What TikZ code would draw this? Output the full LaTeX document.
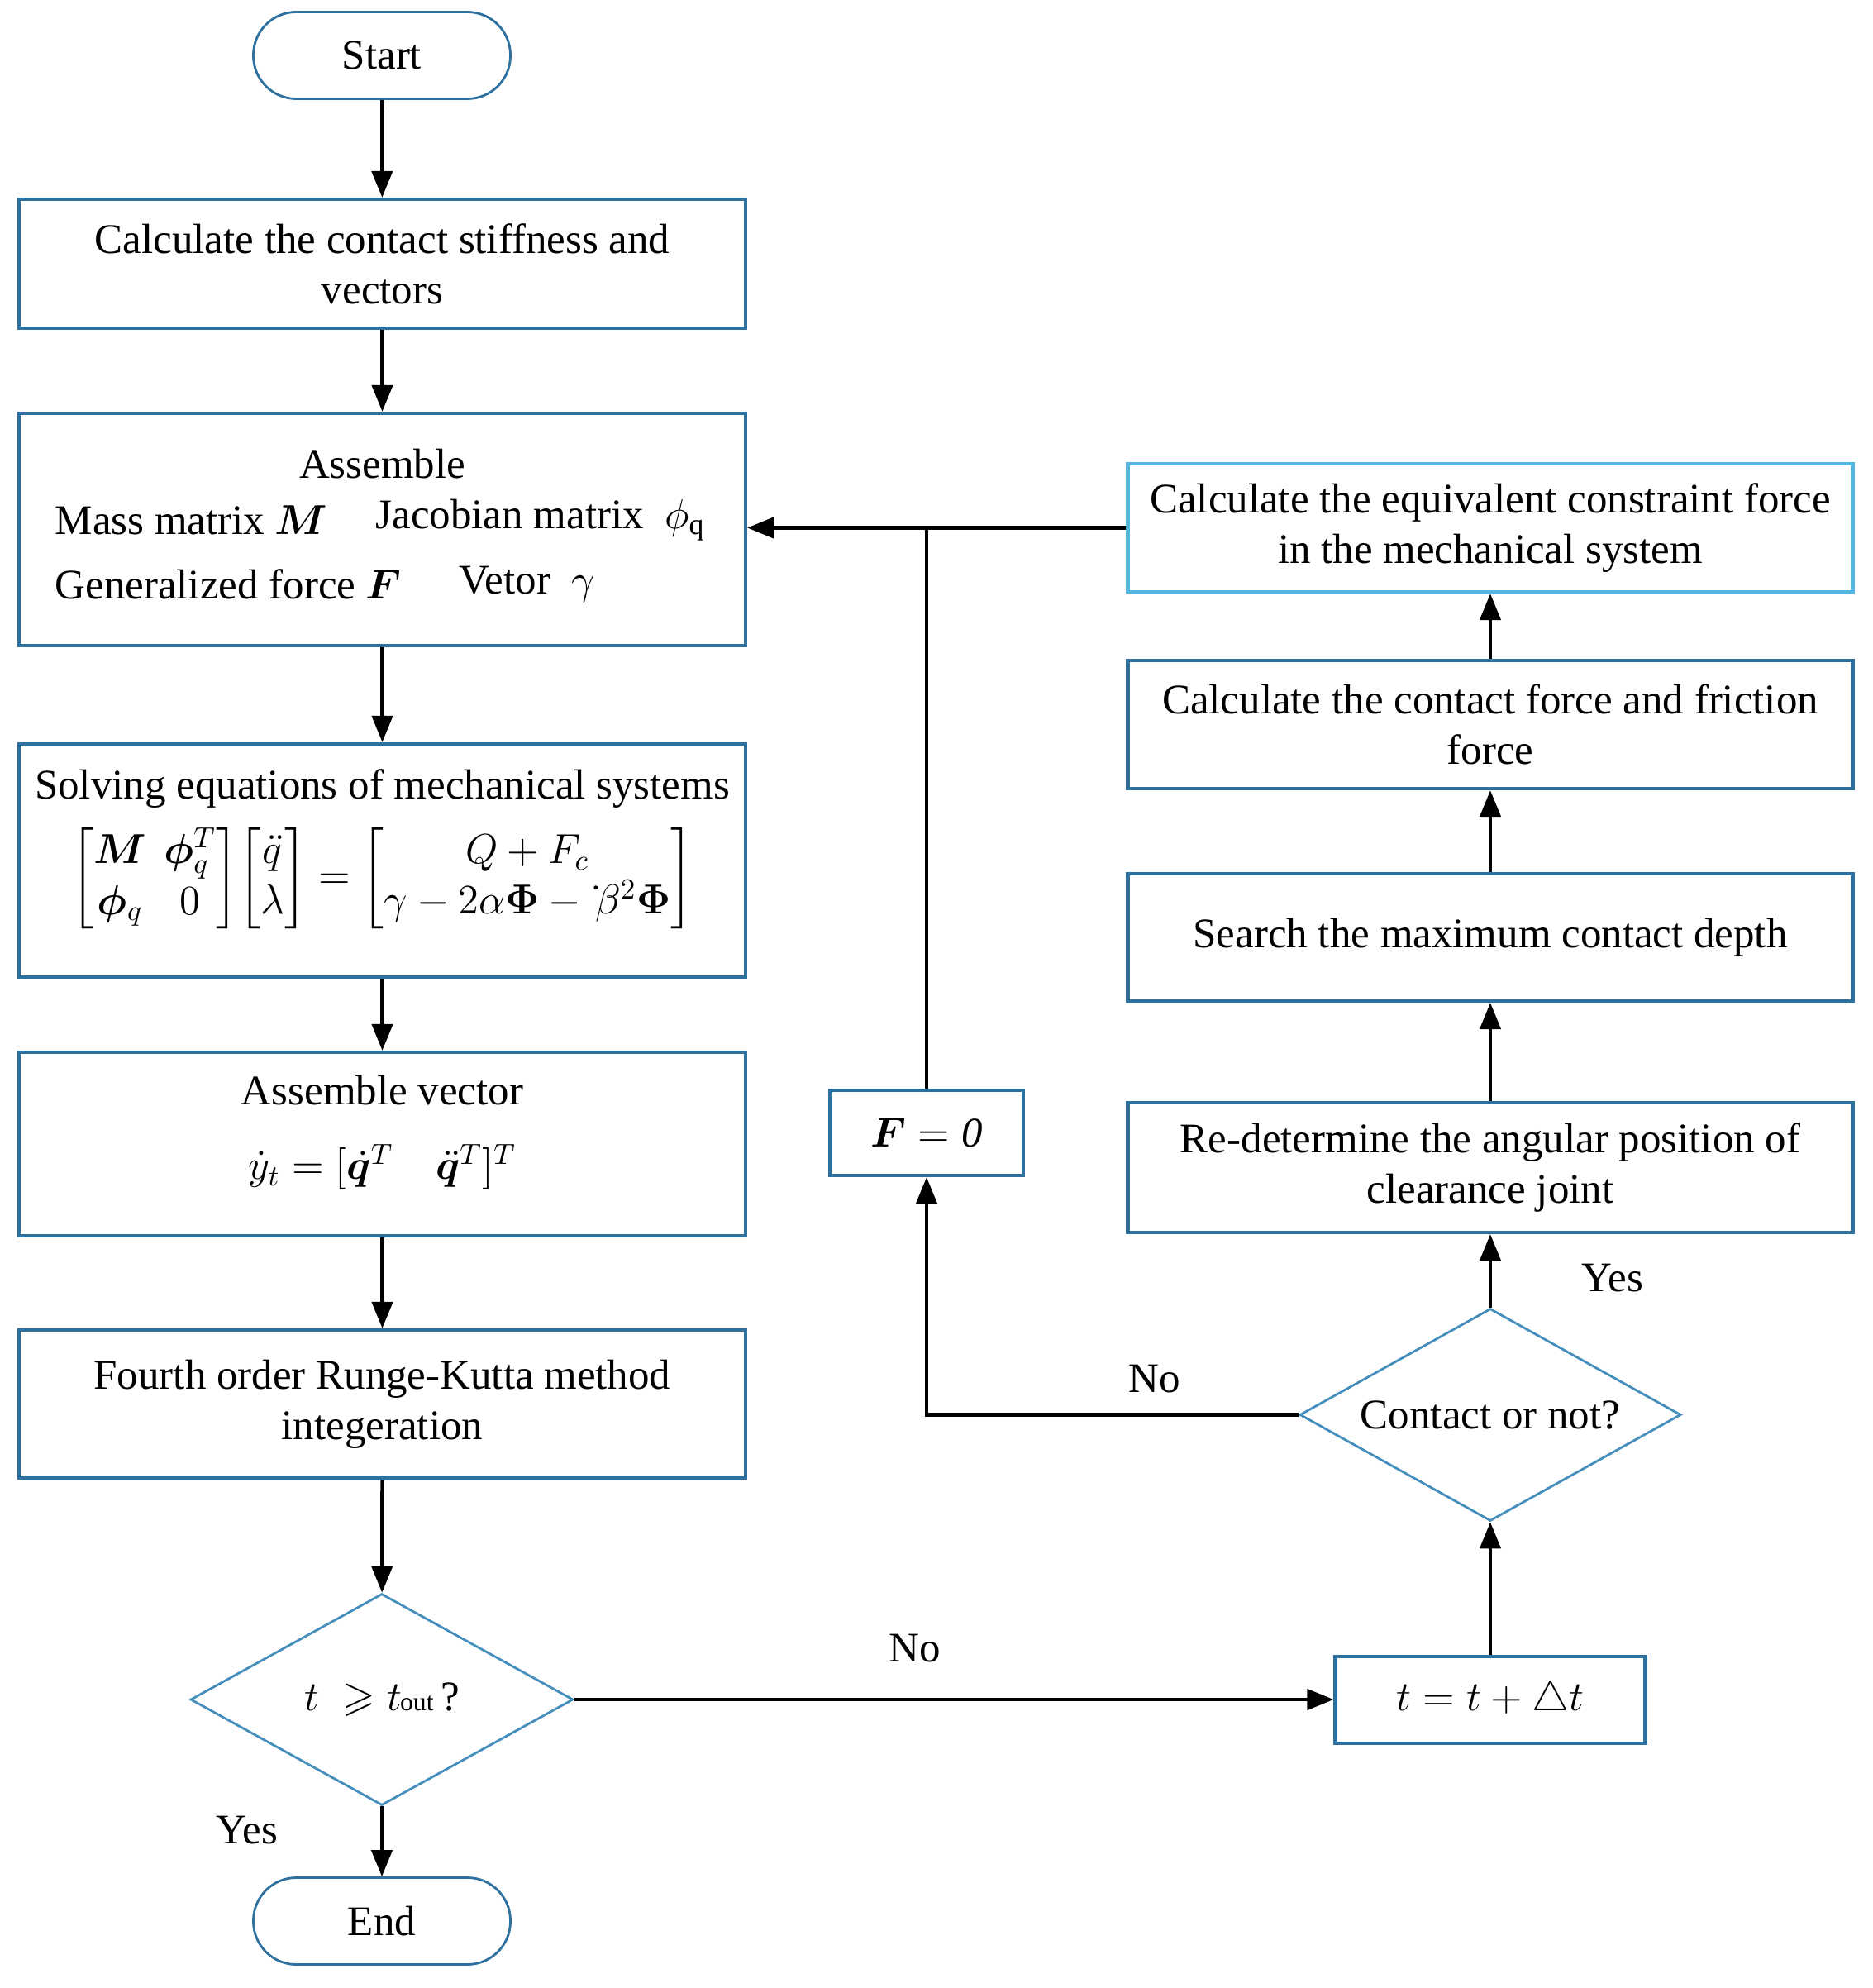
\documentclass[tikz,border=0pt]{standalone}
\usepackage{fontspec}
\setmainfont{Liberation Serif}
\usepackage{amsmath,amssymb,bm}
\usetikzlibrary{arrows.meta,positioning,calc,shapes.geometric}

\definecolor{boxblue}{RGB}{46,112,158}
\definecolor{lineblue}{RGB}{70,142,188}
\definecolor{lightcyan}{RGB}{82,182,222}
\newcommand{\flowfont}{\fontsize{14.5}{17.4}\selectfont}

\begin{document}
\begin{tikzpicture}[
			box/.style={draw=boxblue, line width=1.2pt, align=center, inner sep=2pt, minimum width=8.79cm, font=\flowfont},
			term/.style={draw=boxblue, line width=0.8pt, rounded corners=0.52cm, minimum width=3.11cm, minimum height=1.05cm, font=\flowfont},
			cond/.style={diamond, aspect=1.8, draw=lineblue, line width=0.8pt, inner sep=0pt, font=\flowfont},
			lab/.style={inner sep=0pt, font=\flowfont},
			arr/.style={line width=1.2pt, -{Triangle[length=0.32cm,width=0.25cm]}},
			plain/.style={line width=1.2pt}
			]
			
			\useasboundingbox (0,0) rectangle (22.65,-24.05);
			
			% --------------------------------------------------------------------
			% left column (main loop)
			% --------------------------------------------------------------------
			\node[term] (start) at (4.62,-0.67) {Start};
			
			\node[box, minimum height=1.56cm] (stiff) at (4.625,-3.19) {Calculate the contact stiffness and\\vectors};
			
			\node[box, minimum height=2.81cm] (assem) at (4.625,-6.405) {};
			\node[lab] (assemT) at (4.625,-5.61) {Assemble};
			\node[lab, anchor=west] (massT) at (0.66,-6.29) {Mass matrix $\bm{M}$};
			\node[lab, anchor=west] (jacT) at (4.54,-6.29) {Jacobian matrix \ $\phi_{\mathrm{q}}$};
			\node[lab, anchor=west] (genT) at (0.66,-7.07) {Generalized force $\bm{F}$};
			\node[lab, anchor=west] (vetT) at (5.55,-7.07) {Vetor \ $\gamma$};
			
			\node[box, minimum height=2.82cm] (solve) at (4.625,-10.41) {};
			\node[lab] (solveT) at (4.625,-9.54) {Solving equations of mechanical systems};
			\node[lab] (solveEq) at (4.625,-10.63) {\setlength{\arraycolsep}{3pt}$
				\begin{bmatrix}
					\bm{M} & \bm{\phi}_q^T\\
					\bm{\phi}_q & 0
				\end{bmatrix}
				\!\begin{bmatrix}
					\ddot{q}\\
					\lambda
				\end{bmatrix}
				=
				\begin{bmatrix}
					Q+F_c\\
					\gamma - 2\alpha\bm{\Phi} - \dot{\;}\!\beta^2\bm{\Phi}
				\end{bmatrix}
				$};
			
			\node[box, minimum height=2.22cm] (vect) at (4.625,-13.84) {};
			\node[lab] (vectT) at (4.625,-13.19) {Assemble vector};
			\node[lab] (vectEq) at (4.625,-14.12) {$\dot{y}_t = [\dot{\bm{q}}^T \quad \ddot{\bm{q}}^T]^T$};
			
			\node[box, minimum height=1.79cm] (rk) at (4.625,-16.985) {Fourth order Runge-Kutta method\\integeration};
			
			\node[cond, minimum width=4.63cm, minimum height=2.56cm] (tchk) at (4.62,-20.56) {$t\;\geqslant t$\kern-0.5pt{\small out}\,?};
			
			\node[term] (finish) at (4.62,-23.24) {End};
			
			% --------------------------------------------------------------------
			% right column (contact detection)
			% --------------------------------------------------------------------
			\node[box, minimum width=3.75cm, minimum height=1.05cm] (tstep) at (18.03,-20.565) {$t = t + \triangle t$};
			
			\node[cond, minimum width=4.61cm, minimum height=2.57cm] (contact) at (18.03,-17.115) {Contact or not?};
			
			\node[box, minimum width=8.77cm, minimum height=1.57cm] (redet) at (18.03,-14.125) {Re-determine the angular position of\\clearance joint};
			\node[box, minimum width=8.77cm, minimum height=1.54cm] (search) at (18.03,-11.34) {Search the maximum contact depth};
			\node[box, minimum width=8.77cm, minimum height=1.55cm] (cforce) at (18.03,-8.765) {Calculate the contact force and friction\\force};
			\node[box, draw=lightcyan, minimum width=8.77cm, minimum height=1.55cm] (equiv) at (18.03,-6.385) {Calculate the equivalent constraint force\\in the mechanical system};
			
			\node[box, minimum width=2.34cm, minimum height=1.03cm] (fzero) at (11.21,-13.705) {$\bm{F} = \mathit{0}$};
			
			% connectors
			\draw[arr] (start) -- (stiff);
			\draw[arr] (stiff) -- (assem);
			\draw[arr] (assem) -- (solve);
			\draw[arr] (solve) -- (vect);
			\draw[arr] (vect) -- (rk);
			\draw[arr] (rk) -- (tchk);
			\draw[arr] (tchk) -- (finish);
			\draw[arr] (tchk.east) -- (tchk.east -| tstep.west);
			
			\draw[arr] (tstep) -- (contact);
			\draw[arr] (contact) -- (redet);
			\draw[arr] (redet) -- (search);
			\draw[arr] (search) -- (cforce);
			\draw[arr] (cforce) -- (equiv);
			\draw[arr] (equiv.west) -- (equiv.west -| assem.east);
			
			\coordinate (join) at (fzero.north |- equiv.west);
			\draw[plain] (fzero.north) -- (join);
			\draw[arr] (contact.west) -| (fzero.south);
			
			% branch labels
			\node[lab] (yesEnd) at (2.99,-22.14) {Yes};
			\node[lab] (noStep) at (11.07,-19.94) {No};
			\node[lab] (noForce) at (13.97,-16.68) {No};
			\node[lab] (yesCont) at (19.51,-15.46) {Yes};
			
		\end{tikzpicture}
\end{document}
